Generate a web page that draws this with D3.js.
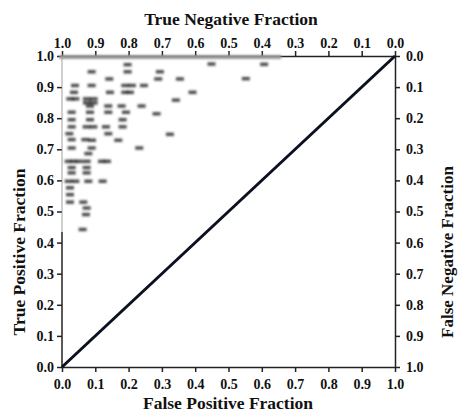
<!DOCTYPE html>
<html>
<head>
<style>
  body {
    margin: 0;
    background-color: #fff;
  }
  .tick text {
    font-family: "Liberation Serif", Times, serif;
    font-weight: bold;
    font-size: 14px;
    fill: #111;
  }
  .title {
    font-family: "Liberation Serif", Times, serif;
    font-weight: bold;
    font-size: 17.5px;
    fill: #111;
  }
</style>
  <script src="https://d3js.org/d3.v7.min.js"></script>
</head>
<body>
<script>
// ROC points: false positive fraction vs true positive fraction
const fpf = [
  .197, .197, .089, .142, .294, .289, .354, .449, .607, .552,
  .039, .089, .19, .21, .246, .036, .144, .19, .204, .392,
  .025, .04, .075, .095, .342, .075, .095, .084, .139, .179,
  .239, .029, .084, .139, .192, .284, .029, .084, .182, .029,
  .074, .094, .132, .182, .022, .139, .324, .029, .07, .09,
  .169, .029, .089, .232, .079, .02, .035, .05, .074, .12,
  .135, .029, .074, .029, .074, .02, .04, .079, .122, .024,
  .024, .024, .064, .074, .072, .062
];
const tpf = [
  .973, .95, .95, .927, .95, .927, .927, .975, .974, .928,
  .906, .906, .906, .906, .906, .884, .884, .884, .884, .884,
  .863, .863, .863, .863, .859, .85, .85, .84, .84, .84,
  .84, .82, .82, .82, .82, .815, .796, .796, .796, .773,
  .773, .773, .773, .773, .751, .751, .749, .732, .732, .73,
  .73, .705, .705, .705, .687, .662, .662, .662, .662, .662,
  .662, .642, .642, .625, .625, .598, .598, .598, .598, .577,
  .555, .531, .531, .512, .491, .443
];
// many operating points sit on TPF = 1.0
const topRowFpf = [.01, .04, .07, .10, .13, .16, .19, .22, .25, .28, .31,
  .34, .37, .40, .43, .46, .49, .52, .55, .58, .61, .64];

const ticks = [0, .1, .2, .3, .4, .5, .6, .7, .8, .9, 1];

const svg = d3.select('body')
  .append('svg')
  .attr('width', 459)
  .attr('height', 413);

const defs = svg.append('defs');
defs.append('filter')
  .attr('id', 'blur')
  .attr('x', '-50%').attr('y', '-50%')
  .attr('width', '200%').attr('height', '200%')
  .append('feGaussianBlur')
  .attr('stdDeviation', 0.9);

const x = d3.scaleLinear().domain([0, 1]).range([62, 395]);
const y = d3.scaleLinear().domain([0, 1]).range([367, 56]);
const xTop = d3.scaleLinear().domain([1, 0]).range([62, 395]);
const yRight = d3.scaleLinear().domain([1, 0]).range([367, 56]);

const fmt = d3.format('.1f');

const styleAxis = (g) => {
  g.selectAll('.tick line').attr('stroke', '#222').attr('stroke-width', 1.5);
  g.select('.domain').attr('stroke', '#222').attr('stroke-width', 1.5);
};

// bottom
svg.append('g')
  .attr('transform', `translate(0,${y(0)})`)
  .call(d3.axisBottom(x).tickValues(ticks).tickFormat(fmt).tickSize(5).tickSizeOuter(0).tickPadding(7))
  .call(styleAxis);

// top
svg.append('g')
  .attr('transform', `translate(0,${y(1)})`)
  .call(d3.axisTop(xTop).tickValues(ticks).tickFormat(fmt).tickSize(5).tickSizeOuter(0).tickPadding(3))
  .call(styleAxis);

// right
svg.append('g')
  .attr('transform', `translate(${x(1)},0)`)
  .call(d3.axisRight(yRight).tickValues(ticks).tickFormat(fmt).tickSize(5).tickSizeOuter(0).tickPadding(6))
  .call(styleAxis);

// left - the axis line is faded above ~0.43 in the original
const left = svg.append('g')
  .attr('transform', `translate(${x(0)},0)`)
  .call(d3.axisLeft(y).tickValues(ticks).tickFormat(fmt).tickSize(5).tickSizeOuter(0).tickPadding(3))
  .call(styleAxis);
left.select('.domain').remove();
left.append('line')
  .attr('y1', y(0)).attr('y2', y(0.434))
  .attr('stroke', '#222').attr('stroke-width', 1.5);
left.append('line')
  .attr('y1', y(0.434)).attr('y2', y(1))
  .attr('stroke', '#888').attr('stroke-width', 0.8);

// chance diagonal
svg.append('line')
  .attr('x1', x(0)).attr('y1', y(0))
  .attr('x2', x(1)).attr('y2', y(1))
  .attr('stroke', '#0b1120')
  .attr('stroke-width', 3);

// top band of points at TPF = 1
svg.append('g')
  .attr('filter', 'url(#blur)')
  .selectAll('rect')
  .data(topRowFpf)
  .join('rect')
  .attr('x', d => x(d) - 6)
  .attr('y', y(1) - 1)
  .attr('width', 12)
  .attr('height', 4)
  .attr('fill', '#999');

// scatter of points
svg.append('g')
  .attr('filter', 'url(#blur)')
  .selectAll('rect')
  .data(fpf.map((d, i) => ({ fp: d, tp: tpf[i] })))
  .join('rect')
  .attr('x', d => x(d.fp) - 4)
  .attr('y', d => y(d.tp) - 1.5)
  .attr('width', 8)
  .attr('height', 3.5)
  .attr('fill', '#333')
  .attr('opacity', 0.85);

// titles
svg.append('text')
  .attr('class', 'title')
  .attr('x', 231).attr('y', 25)
  .attr('text-anchor', 'middle')
  .text('True Negative Fraction');

svg.append('text')
  .attr('class', 'title')
  .attr('x', 228).attr('y', 409)
  .attr('text-anchor', 'middle')
  .text('False Positive Fraction');

svg.append('text')
  .attr('class', 'title')
  .attr('transform', 'translate(25,252) rotate(-90)')
  .attr('text-anchor', 'middle')
  .text('True Positive Fraction');

svg.append('text')
  .attr('class', 'title')
  .attr('transform', 'translate(453,252) rotate(-90)')
  .attr('text-anchor', 'middle')
  .style('font-size', '17px')
  .text('False Negative Fraction');
</script>
</body>
</html>
